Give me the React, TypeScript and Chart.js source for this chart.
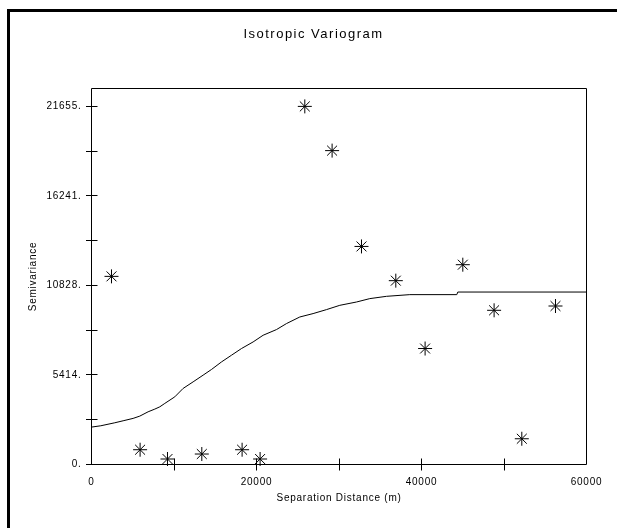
import React, { useEffect, useRef } from 'react';
import { Chart, registerables } from 'chart.js';

Chart.register(...registerables);

const chartTitle = 'Isotropic Variogram';
const xAxisTitle = 'Separation Distance (m)';
const yAxisTitle = 'Semivariance';
const xTickValues = [0, 10000, 20000, 30000, 40000, 50000, 60000];
const xTickLabels = ['0', '', '20000', '', '40000', '', '60000'];
const yTickValues = [0, 2706.875, 5413.75, 8120.625, 10827.5, 13534.375, 16241.25, 18948.125, 21655];
const yTickLabels = ['0.', '', '5414.', '', '10828.', '', '16241.', '', '21655.'];

const xMin = 0;
const xMax = 60000;
const yMin = 0;
const yMax = 22737.75;

// experimental variogram (stars)
const lagDistance = [2424, 5891, 9212, 13370, 18255, 20436, 25855, 29164, 32727, 36885, 40436, 45006, 48800, 52158, 56242];
const semivariance = [11377, 893, 332, 634, 893, 332, 21655, 18981, 13187, 11117, 7013, 12083, 9325, 1557, 9584];

// fitted model curve
const modelDistance = [0, 1127, 2824, 3830, 5042, 5855, 6861, 7673, 8279, 8885, 10097, 11103, 12315, 13527, 14545, 15758, 16970, 18182, 19588, 20800, 22424, 23636, 25248, 26861, 28485, 30097, 32121, 33733, 35758, 38582, 44279, 44400, 60000];
const modelSemivariance = [2263, 2342, 2523, 2643, 2788, 2927, 3187, 3350, 3488, 3694, 4092, 4599, 4997, 5402, 5746, 6204, 6609, 7013, 7411, 7816, 8160, 8522, 8920, 9126, 9367, 9626, 9826, 10031, 10170, 10272, 10272, 10429, 10429];

const FONT = "'Liberation Sans', Arial, Helvetica, sans-serif";

const decor = {
  id: 'decor',
  beforeDraw(chart: any) {
    const ctx = chart.ctx;
    ctx.save();
    ctx.fillStyle = '#000';
    ctx.fillRect(7, 9, 3, chart.height - 9);
    ctx.fillRect(7, 9, chart.width - 7, 3);
    ctx.restore();
    (ctx as any).letterSpacing = '1.5px';
  },
  beforeDatasetsDraw(chart: any) {
    const ctx = chart.ctx;
    (ctx as any).letterSpacing = '0.75px';
    const { left, right, top, bottom } = chart.chartArea;
    const xs = chart.scales.x;
    const ys = chart.scales.y;
    ctx.save();
    ctx.strokeStyle = '#000';
    ctx.lineWidth = 1;
    ctx.beginPath();
    const L = Math.floor(left) + 0.5;
    const R = Math.floor(right) + 0.5;
    const T = Math.floor(top) + 0.5;
    const B = Math.floor(bottom) + 0.5;
    ctx.rect(L, T, R - L, B - T);
    ys.ticks.forEach((t: any) => {
      const py = Math.floor(ys.getPixelForValue(t.value)) + 0.5;
      ctx.moveTo(L - 5.5, py);
      ctx.lineTo(L + 6, py);
    });
    xs.ticks.forEach((t: any) => {
      if (t.value <= xMin || t.value >= xMax) return;
      const px = Math.floor(xs.getPixelForValue(t.value)) + 0.5;
      ctx.moveTo(px, B - 6);
      ctx.lineTo(px, B + 6);
    });
    ctx.stroke();
    ctx.restore();
  },
  afterDraw(chart: any) {
    (chart.ctx as any).letterSpacing = '0px';
  },
};

export default function App() {
  const ref = useRef<HTMLCanvasElement | null>(null);

  useEffect(() => {
    if (!ref.current) return;
    Chart.defaults.font.family = FONT;
    Chart.defaults.color = '#000';
    const stars = lagDistance.map((x, i) => ({ x, y: semivariance[i] }));
    const model = modelDistance.map((x, i) => ({ x, y: modelSemivariance[i] }));
    const chart = new Chart(ref.current, {
      type: 'scatter',
      data: {
        datasets: [
          {
            label: 'model',
            data: model,
            showLine: true,
            borderColor: '#000',
            borderWidth: 1,
            pointRadius: 0,
            tension: 0,
            clip: false as any,
          },
          {
            label: 'experimental',
            data: stars,
            showLine: false,
            pointStyle: 'star',
            pointRadius: 7,
            pointBorderWidth: 1,
            borderColor: '#000',
            backgroundColor: '#000',
            clip: false as any,
          },
        ],
      },
      options: {
        responsive: false,
        animation: false,
        devicePixelRatio: 1,
        layout: { padding: { left: 10, right: 0, top: 0, bottom: 0 } },
        plugins: {
          legend: { display: false },
          tooltip: { enabled: false },
          title: {
            display: true,
            text: chartTitle,
            color: '#000',
            font: { family: FONT, size: 13, weight: 'normal' },
            padding: { top: 27, bottom: 45.9 },
          },
        },
        scales: {
          x: {
            type: 'linear',
            position: 'bottom',
            min: xMin,
            max: xMax,
            grid: { display: false, drawTicks: false, z: 1 },
            border: { display: false },
            afterBuildTicks: (s: any) => {
              s.ticks = xTickValues.map((v) => ({ value: v }));
            },
            ticks: {
              autoSkip: false,
              maxRotation: 0,
              minRotation: 0,
              padding: 11.5,
              color: '#000',
              font: { family: FONT, size: 10 },
              z: 1,
              callback: (_v: any, i: number) => xTickLabels[i] ?? '',
            },
            title: {
              display: true,
              text: xAxisTitle,
              color: '#000',
              font: { family: FONT, size: 10 },
              padding: { top: 0, bottom: 24 },
            },
            afterFit: (s: any) => {
              s.height = 63.5;
            },
          },
          y: {
            type: 'linear',
            position: 'left',
            min: yMin,
            max: yMax,
            grid: { display: false, drawTicks: false, z: 1 },
            border: { display: false },
            afterBuildTicks: (s: any) => {
              s.ticks = yTickValues.map((v) => ({ value: v }));
            },
            ticks: {
              autoSkip: false,
              padding: 10,
              color: '#000',
              font: { family: FONT, size: 10 },
              z: 1,
              callback: (_v: any, i: number) => yTickLabels[i] ?? '',
            },
            title: {
              display: true,
              text: yAxisTitle,
              color: '#000',
              font: { family: FONT, size: 10 },
              padding: { top: 17, bottom: 0 },
            },
            afterFit: (s: any) => {
              s.width = 81.5;
            },
          },
          y2: {
            type: 'linear',
            position: 'right',
            min: 0,
            max: 1,
            grid: { display: false, drawTicks: false },
            border: { display: false },
            ticks: { display: false },
            afterFit: (s: any) => {
              s.width = 30.5;
            },
          },
        },
      } as any,
      plugins: [decor],
    });
    return () => chart.destroy();
  }, []);

  return (
    <div style={{ position: 'absolute', left: 0, top: 0, width: 617, height: 528, background: '#fff' }}>
      <canvas ref={ref} width={617} height={528} style={{ display: 'block', width: 617, height: 528 }} />
    </div>
  );
}
